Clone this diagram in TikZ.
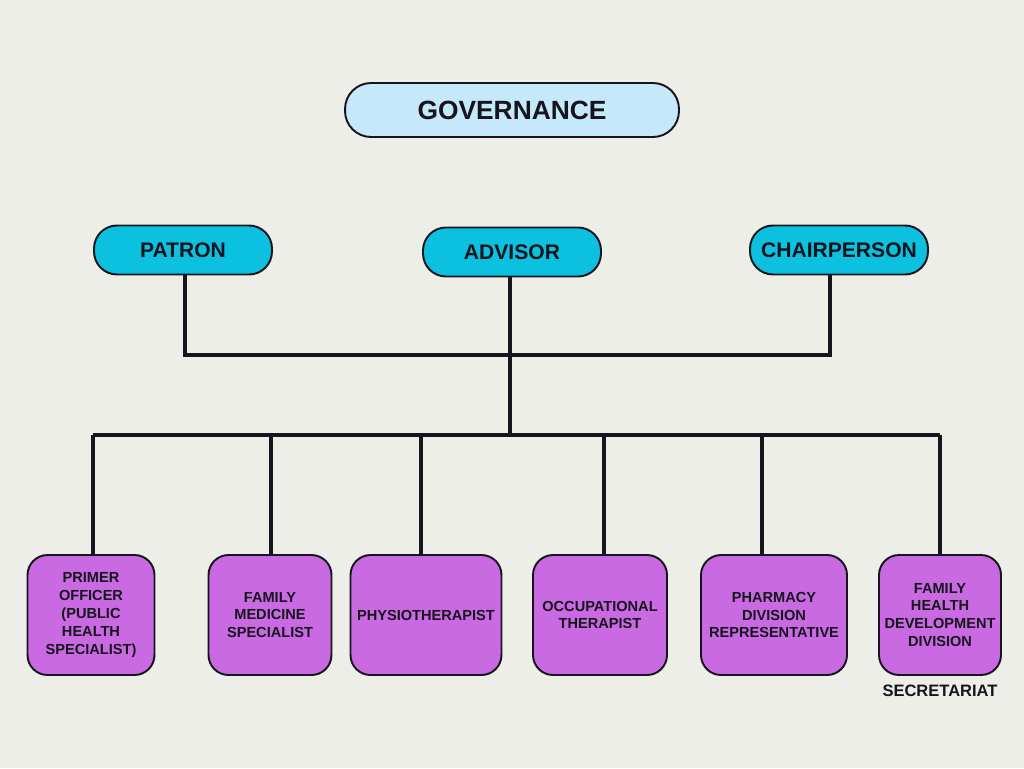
\documentclass[tikz,border=0pt]{standalone}
\usepackage{fontspec}
\setmainfont{Liberation Sans}
\usepackage{xcolor}
\usepackage{tikz}
\usetikzlibrary{positioning,calc}
\definecolor{paper}{RGB}{238,238,232}
\definecolor{govblue}{RGB}{198,232,251}
\definecolor{cyanbox}{RGB}{12,192,224}
\definecolor{violet}{RGB}{201,106,226}
\definecolor{inkdark}{RGB}{22,20,28}

\begin{document}
\begin{tikzpicture}[
    x=0.02cm, y=-0.02cm,
    headbox/.style={draw=inkdark, line width=1.1pt, rounded corners=0.52cm, fill=govblue,
                minimum width=6.68cm, minimum height=1.08cm, align=center,
                font=\fontsize{15}{18}\selectfont\bfseries\color{inkdark}},
    rolebox/.style={draw=inkdark, line width=1.1pt, rounded corners=0.46cm, fill=cyanbox,
                minimum width=3.56cm, minimum height=0.98cm, align=center,
                font=\fontsize{12}{14}\selectfont\bfseries\color{inkdark}},
    unitbox/.style={draw=inkdark, line width=1.1pt, rounded corners=0.4cm, fill=violet,
                minimum height=2.4cm, align=center, inner sep=1pt,
                font=\fontsize{8.3}{10.2}\selectfont\bfseries\color{inkdark}},
    link/.style={line width=1.8pt, inkdark}
]
\useasboundingbox[fill=paper] (0,0) rectangle (1024,768);

\node[headbox] (gov) at (512,110) {GOVERNANCE};

\node[rolebox] (patron) at (183,250) {PATRON};
\node[rolebox] (advisor) at (512,252) {ADVISOR};
\node[rolebox] (chair) at (839,250) {CHAIRPERSON};

\node[unitbox, minimum width=2.54cm] (primer) at (91,615) {PRIMER\\OFFICER\\(PUBLIC\\HEALTH\\SPECIALIST)};
\node[unitbox, minimum width=2.46cm] (famed) at (270,615) {FAMILY\\MEDICINE\\SPECIALIST};
\node[unitbox, minimum width=3.02cm] (physio) at (426,615) {PHYSIOTHERAPIST};
\node[unitbox, minimum width=2.68cm] (occup) at (600,615) {OCCUPATIONAL\\THERAPIST};
\node[unitbox, minimum width=2.92cm] (pharma) at (774,615) {PHARMACY\\DIVISION\\REPRESENTATIVE};
\node[unitbox, minimum width=2.44cm] (fhdd) at (940,615) {FAMILY\\HEALTH\\DEVELOPMENT\\DIVISION};
\node[below=0.05cm of fhdd, font=\fontsize{9.4}{11}\selectfont\bfseries\color{inkdark}] (secr) {SECRETARIAT};

% upper bar
\coordinate (topbar) at (512,355);
\coordinate (pdrop) at ([xshift=0.04cm]patron.south);
\coordinate (cdrop) at ([xshift=-0.18cm]chair.south);
\draw[link] (pdrop) -- (pdrop |- topbar) -- (cdrop |- topbar) -- (cdrop);
% lower bar
\coordinate (lowbar) at (512,435);
\draw[link] ([xshift=-0.04cm]advisor.south) -- ([xshift=-0.04cm]advisor.south |- lowbar);
\foreach \u/\dx in {primer/0.04,famed/0.02,physio/-0.1,occup/0.08,pharma/-0.24,fhdd/0}
    \draw[link] ([xshift=\dx cm]\u.north |- lowbar) -- ([xshift=\dx cm]\u.north);
\draw[link] ([xshift=0.04cm]primer.north |- lowbar) -- (fhdd.north |- lowbar);
\end{tikzpicture}
\end{document}
